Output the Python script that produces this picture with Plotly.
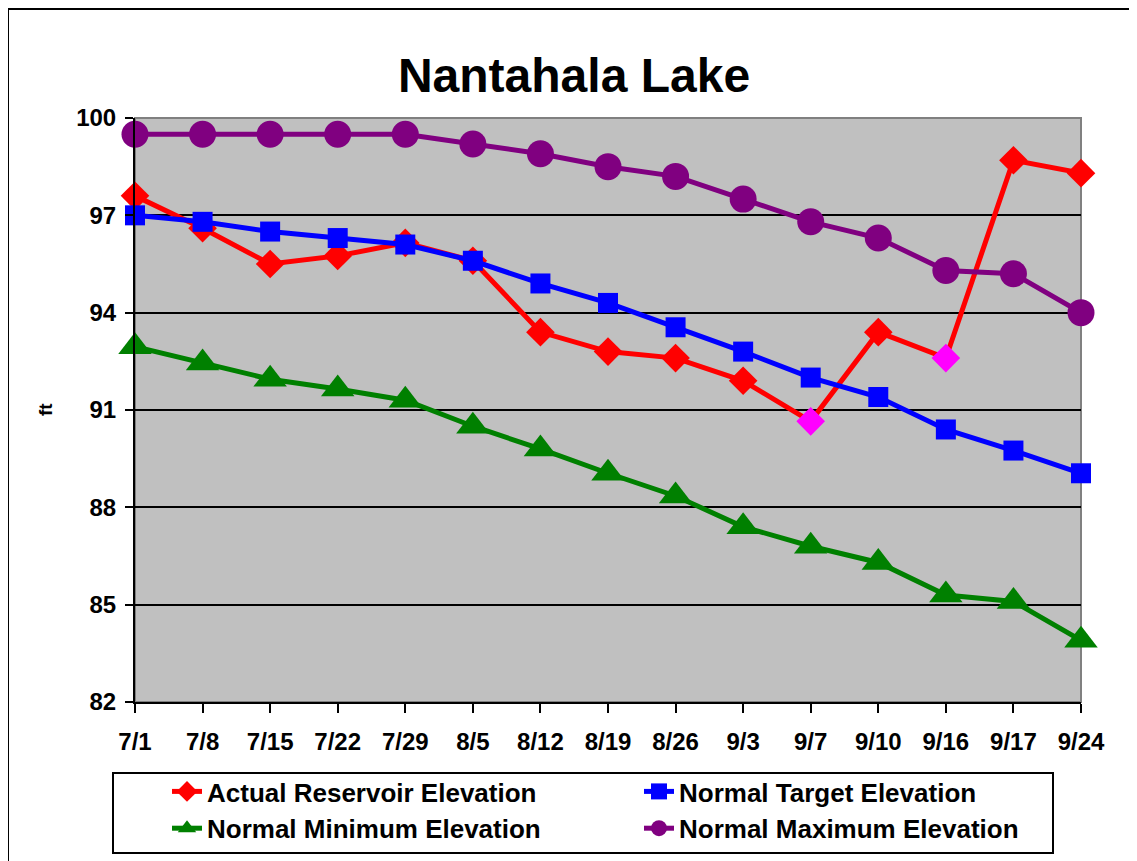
import plotly.graph_objects as go

dates = ["7/1", "7/8", "7/15", "7/22", "7/29", "8/5", "8/12", "8/19", "8/26",
         "9/3", "9/7", "9/10", "9/16", "9/17", "9/24"]
actual = [97.6, 96.6, 95.5, 95.75, 96.15, 95.6, 93.4, 92.8, 92.6, 91.9,
          90.65, 93.4, 92.6, 98.7, 98.3]
target = [97.0, 96.8, 96.5, 96.3, 96.1, 95.6, 94.9, 94.3, 93.55, 92.8,
          92.0, 91.4, 90.4, 89.75, 89.05]
minimum = [92.95, 92.45, 91.95, 91.65, 91.3, 90.5, 89.8, 89.05, 88.35, 87.4,
           86.8, 86.3, 85.3, 85.1, 83.9]
maximum = [99.5, 99.5, 99.5, 99.5, 99.5, 99.2, 98.9, 98.5, 98.2, 97.5,
           96.8, 96.3, 95.3, 95.2, 94.0]
highlight = ["9/7", "9/16"]

# page body margin of 8px offsets the figure; work in page pixels and convert
OFF = 8
W, H = 1137 - OFF, 861 - OFF
L, R, T, B = 135, 1081, 118, 702  # page pixel positions of plot area
PW, PH = R - L, B - T


def px_x(p):
    return (p - L) / PW


def px_y(p):
    return (B - p) / PH


FONT = "Arial, Liberation Sans, sans-serif"

actual_colors = ["#FF00FF" if d in highlight else "#FF0000" for d in dates]

fig = go.Figure()
fig.add_trace(go.Scatter(
    x=dates, y=actual, name="Actual Reservoir Elevation", mode="lines+markers",
    line=dict(color="#FF0000", width=5),
    marker=dict(symbol="diamond", size=22, color=actual_colors),
    cliponaxis=False))
fig.add_trace(go.Scatter(
    x=dates, y=target, name="Normal Target Elevation", mode="lines+markers",
    line=dict(color="#0000FF", width=5),
    marker=dict(symbol="square", size=20, color="#0000FF"),
    cliponaxis=False))
fig.add_trace(go.Scatter(
    x=dates, y=minimum, name="Normal Minimum Elevation", mode="lines+markers",
    line=dict(color="#008000", width=5),
    marker=dict(symbol="triangle-up", size=29, color="#008000"),
    cliponaxis=False))
fig.add_trace(go.Scatter(
    x=dates, y=maximum, name="Normal Maximum Elevation", mode="lines+markers",
    line=dict(color="#800080", width=5),
    marker=dict(symbol="circle", size=27, color="#800080"),
    cliponaxis=False))

fig.update_layout(
    width=W, height=H,
    margin=dict(l=L - OFF, r=W - (R - OFF), t=T - OFF, b=H - (B - OFF), autoexpand=False),
    paper_bgcolor="white", plot_bgcolor="#C0C0C0",
    font=dict(family=FONT, color="black"),
    title=dict(text="Nantahala Lake", x=px_x(574), xref="paper", xanchor="center",
               y=1 - (75 - OFF) / H, yref="container", yanchor="middle",
               font=dict(size=48, family=FONT, weight="bold", color="black")),
    showlegend=True,
    legend=dict(orientation="h", x=px_x(167), y=px_y(768), xanchor="left", yanchor="top",
                font=dict(size=26, family=FONT, weight="bold", color="black"),
                bgcolor="rgba(0,0,0,0)", borderwidth=0,
                entrywidth=427, entrywidthmode="pixels", traceorder="normal"),
    xaxis=dict(type="category", range=[0, len(dates) - 1], showgrid=False,
               showline=True, linecolor="black", linewidth=2,
               ticks="outside", ticklen=9, tickwidth=2, tickcolor="black",
               ticklabelstandoff=8,
               tickfont=dict(size=24, family=FONT, weight="bold", color="black"),
               zeroline=False),
    yaxis=dict(range=[82, 100], tick0=82, dtick=3, showgrid=True,
               gridcolor="black", gridwidth=2,
               showline=True, linecolor="black", linewidth=2,
               ticks="outside", ticklen=8, tickwidth=2, tickcolor="black",
               ticklabelstandoff=4,
               tickfont=dict(size=24, family=FONT, weight="bold", color="black"),
               zeroline=False),
    shapes=[
        dict(type="rect", xref="paper", yref="paper", x0=0, x1=1, y0=0, y1=1,
             line=dict(color="#808080", width=2), layer="between"),
        dict(type="rect", xref="paper", yref="paper",
             x0=px_x(113), x1=px_x(1053), y0=px_y(773), y1=px_y(853),
             line=dict(color="black", width=2), fillcolor="white", layer="below"),
        dict(type="rect", xref="paper", yref="paper",
             x0=px_x(7.5), x1=px_x(1160), y0=px_y(8.5), y1=px_y(880),
             line=dict(color="black", width=3), layer="below"),
    ],
    annotations=[
        dict(text="ft", xref="paper", yref="paper", x=px_x(45), y=px_y(410),
             showarrow=False, textangle=-90, xanchor="center", yanchor="middle",
             font=dict(size=19, family=FONT, weight="bold", color="black")),
    ],
)

fig.write_html("out.html")
